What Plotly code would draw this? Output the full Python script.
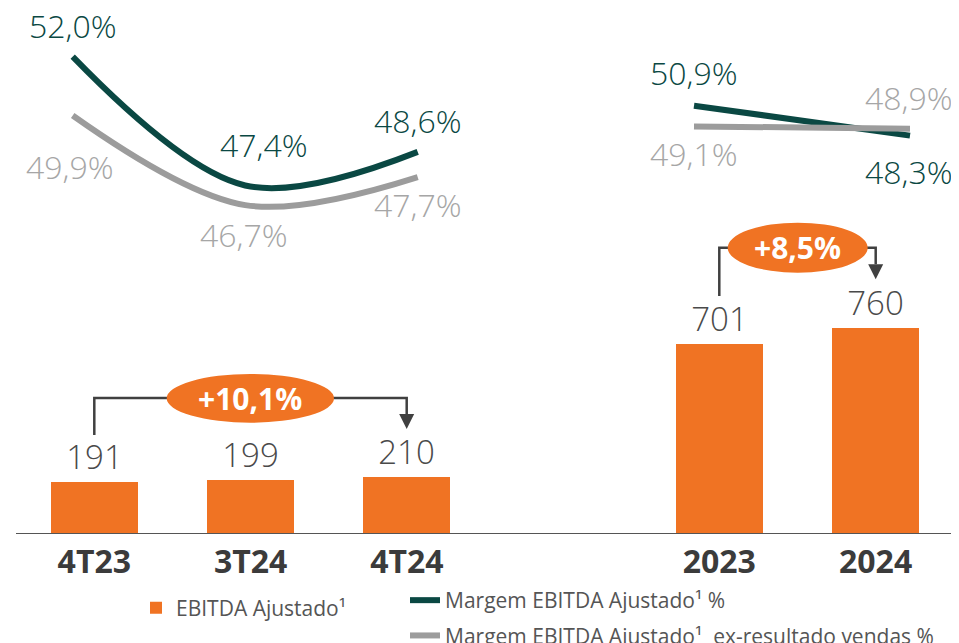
import plotly.graph_objects as go

# ---------------- data ----------------
quarters = ["4T23", "3T24", "4T24"]
quarter_ebitda = [191, 199, 210]
years = ["2023", "2024"]
year_ebitda = [701, 760]

quarter_margin = [52.0, 47.4, 48.6]
quarter_margin_ex = [49.9, 46.7, 47.7]
year_margin = [50.9, 48.3]
year_margin_ex = [49.1, 48.9]

quarter_growth = "+10,1%"
year_growth = "+8,5%"

bar_name = "EBITDA Ajustado¹"
margin_name = "Margem EBITDA Ajustado¹ %"
margin_ex_name = "Margem EBITDA Ajustado¹\u00a0 ex-resultado vendas %"

# ---------------- style ----------------
FONT = "Open Sans, Noto Sans, sans-serif"
ORANGE = "#F07323"
TEAL = "#0A4843"
GRAY_LINE = "#9C9C9C"
GRAY_TEXT = "#A6A6A6"
VAL_TEXT = "#4A4A4A"
TICK = "#3B3B3B"
BRACKET = "#404040"

W, H = 959, 643
OFF = 8            # page offset of the figure (body margin)
BASE = 534         # page y of the baseline
PH = BASE - OFF    # plot-area height
MB = H - PH


def pct(v):
    return f"{v:.1f}%".replace(".", ",")


def px(p):
    """page x pixel -> paper x"""
    return (p - OFF) / W


def py(p):
    """page y pixel -> paper y"""
    return 1 - (p - OFF) / PH


def cat_range(c0, step):
    a = c0 - OFF
    return [-a / step, (W - a) / step]


def lin_range(v_ref, p_ref, px_per_unit):
    top = v_ref + (p_ref - OFF) / px_per_unit
    return [top - PH / px_per_unit, top]


fig = go.Figure()

bar_style = dict(
    marker=dict(color=ORANGE, line=dict(width=0)),
    width=0.555,
    textposition="outside",
    textfont=dict(family=FONT, size=33, color=VAL_TEXT, weight=300),
    cliponaxis=False,
    name=bar_name,
    legend="legend",
    hoverinfo="x+y",
)
fig.add_trace(go.Bar(x=quarters, y=quarter_ebitda, text=[str(v) for v in quarter_ebitda],
                     xaxis="x", yaxis="y", showlegend=True, **bar_style))
fig.add_trace(go.Bar(x=years, y=year_ebitda, text=[str(v) for v in year_ebitda],
                     xaxis="x4", yaxis="y", showlegend=False, **bar_style))

line_common = dict(mode="lines", legend="legend2", cliponaxis=False)
fig.add_trace(go.Scatter(x=quarters, y=quarter_margin, xaxis="x2", yaxis="y2",
                         line=dict(color=TEAL, width=6, shape="spline", smoothing=1),
                         name=margin_name, legendgroup="m", showlegend=True, **line_common))
fig.add_trace(go.Scatter(x=quarters, y=quarter_margin_ex, xaxis="x2", yaxis="y2",
                         line=dict(color=GRAY_LINE, width=6, shape="spline", smoothing=1),
                         name=margin_ex_name, legendgroup="e", showlegend=True, **line_common))
fig.add_trace(go.Scatter(x=years, y=year_margin, xaxis="x3", yaxis="y3",
                         line=dict(color=TEAL, width=6),
                         name=margin_name, legendgroup="m", showlegend=False, **line_common))
fig.add_trace(go.Scatter(x=years, y=year_margin_ex, xaxis="x3", yaxis="y3",
                         line=dict(color=GRAY_LINE, width=6),
                         name=margin_ex_name, legendgroup="e", showlegend=False, **line_common))

annotations = []
# percentage labels (pixel offsets from the point)
q_dark_off = [(0, 31), (19, 41), (0, 31)]
q_gray_off = [(-3, -51), (-1, -29), (0, -27)]
y_dark_off = [(0, 33), (-1, -36)]
y_gray_off = [(0, -27), (-1, 31)]
label_font = dict(family=FONT, size=32, weight=300)
for vals, offs, col, xr, yr in [
    (quarter_margin, q_dark_off, TEAL, "x2", "y2"),
    (quarter_margin_ex, q_gray_off, GRAY_TEXT, "x2", "y2"),
    (year_margin, y_dark_off, TEAL, "x3", "y3"),
    (year_margin_ex, y_gray_off, GRAY_TEXT, "x3", "y3"),
]:
    for i, (v, (dx, dy)) in enumerate(zip(vals, offs)):
        annotations.append(dict(x=i, y=v, xref=xr, yref=yr, text=pct(v), showarrow=False,
                                xanchor="center", yanchor="middle",
                                xshift=dx, yshift=dy, font=dict(color=col, **label_font)))

shapes = []
# growth brackets (page pixel geometry)
for (x0, ybot, ytop, x1, ytip, ex0, ex1, ey0, ey1, txt) in [
    (94.3, 435, 398, 406.7, 429, 166.7, 334, 374, 422.7, quarter_growth),
    (719.3, 296, 247.7, 875.7, 279.3, 727.7, 867.7, 222.7, 272.7, year_growth),
]:
    head = ytip - 15
    shapes.append(dict(type="path", xref="paper", yref="paper", layer="below",
                       path=f"M{px(x0)},{py(ybot)} L{px(x0)},{py(ytop)} L{px(x1)},{py(ytop)} L{px(x1)},{py(head)}",
                       line=dict(color=BRACKET, width=2.5)))
    shapes.append(dict(type="path", xref="paper", yref="paper", layer="below",
                       path=f"M{px(x1 - 7.5)},{py(head)} L{px(x1 + 7.5)},{py(head)} L{px(x1)},{py(ytip)} Z",
                       fillcolor=BRACKET, line=dict(width=0)))
    shapes.append(dict(type="circle", xref="paper", yref="paper", layer="below",
                       x0=px(ex0), x1=px(ex1), y0=py(ey1), y1=py(ey0),
                       fillcolor=ORANGE, line=dict(width=0)))
    annotations.append(dict(x=px((ex0 + ex1) / 2), y=py((ey0 + ey1) / 2), xref="paper", yref="paper",
                            xanchor="center", yanchor="middle",
                            text=f"<b>{txt}</b>", showarrow=False,
                            font=dict(family=FONT, size=30, color="white")))

# baseline
shapes.append(dict(type="line", xref="paper", yref="y", x0=px(16), x1=px(953), y0=0, y1=0,
                   layer="above", line=dict(color="#555555", width=2)))

tickfont = dict(family=FONT, size=32, color=TICK, weight=700)
hidden = dict(visible=False, showgrid=False, zeroline=False, fixedrange=True)

fig.update_layout(
    width=W, height=H,
    margin=dict(l=0, r=0, t=0, b=MB, autoexpand=False),
    paper_bgcolor="white", plot_bgcolor="white",
    font=dict(family=FONT),
    bargap=0,
    xaxis=dict(type="category", range=cat_range(94.3, 156.28), showgrid=False, zeroline=False,
               showline=False, ticks="", tickfont=tickfont, ticklabelstandoff=6, fixedrange=True),
    xaxis4=dict(type="category", overlaying="x", anchor="y", range=cat_range(719.3, 156.28),
                showgrid=False, zeroline=False, showline=False, ticks="", tickfont=tickfont,
                ticklabelstandoff=6, fixedrange=True),
    xaxis2=dict(type="category", overlaying="x", anchor="y2", range=cat_range(72.7, 172.5), **hidden),
    xaxis3=dict(type="category", overlaying="x", anchor="y3", range=cat_range(694, 216), **hidden),
    yaxis=dict(range=[0, PH / 0.271], **hidden),
    yaxis2=dict(overlaying="y", range=lin_range(52.0, 56.7, 28), **hidden),
    yaxis3=dict(overlaying="y", range=lin_range(50.9, 105.7, 11.5), **hidden),
    legend=dict(x=px(136), y=py(608), xanchor="left", yanchor="middle",
                font=dict(family=FONT, size=21, color="#555555"), bgcolor="rgba(0,0,0,0)"),
    legend2=dict(x=px(405), y=py(580), xanchor="left", yanchor="top", traceorder="grouped",
                 tracegroupgap=5, font=dict(family=FONT, size=21, color="#555555"),
                 bgcolor="rgba(0,0,0,0)"),
    shapes=shapes,
    annotations=annotations,
    showlegend=True,
)

fig.write_html("out.html")
